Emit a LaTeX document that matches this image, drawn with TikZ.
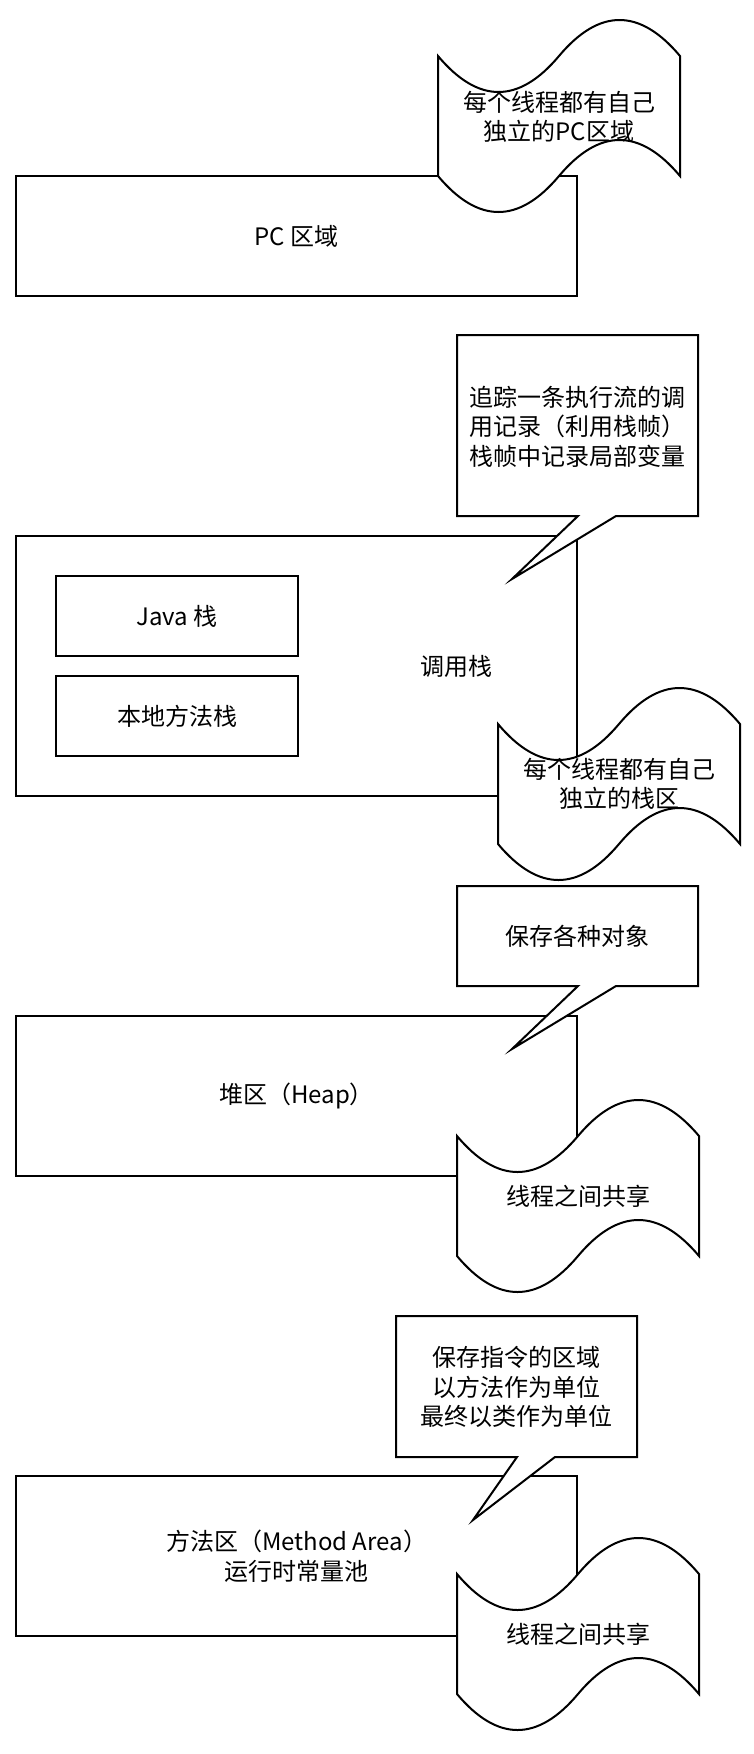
\documentclass[tikz,border=0pt]{standalone}
\usepackage{fontspec}
\setmainfont{Noto Sans CJK SC}

\begin{document}
\begin{tikzpicture}[x=1pt,y=-1pt,line width=2pt,
    font=\fontsize{24}{29.5}\selectfont,
    area/.style={draw, fill=white, inner sep=0pt, align=center, minimum width=561pt},
    sub/.style={draw, fill=white, inner sep=0pt, minimum width=242pt, minimum height=80pt},
    note/.style={inner sep=0pt, align=center}]
\useasboundingbox (0,0) rectangle (754,1754);

\node [area, minimum height=120pt] (pc) at (296.5,236) {PC 区域};
\node [area, minimum height=260pt] (callstack) at (296.5,666) {};
\node [note] (stacklabel) at (456,666) {调用栈};
\node [sub] (javastack) at (177,616) {Java 栈};
\node [sub] (nativestack) at (177,716) {本地方法栈};
\node [area, minimum height=160pt] (heap) at (296.5,1096) {堆区（Heap）};
\node [area, minimum height=160pt] (method) at (296.5,1556) {方法区（Method Area）\\运行时常量池};

\foreach \x/\y/\h/\t in {457/335/181/55, 457/886/100/55, 396/1316/141/77}
{
    \draw [fill=white] (\x,\y) -- ++(241,0) -- ++(0,\h) -- ({\x+159},{\y+\h})
        -- ({\x+\t},{\y+\h+63}) -- ({\x+121},{\y+\h}) -- ({\x},{\y+\h}) -- cycle;
}
\foreach \x/\y in {438/16, 498/684, 457/1096, 457/1534}
{
    \draw [fill=white, shift={(\x,\y)}] (0,40) .. controls (40.3,88) and (80.7,88) .. (121,40)
        .. controls (161.3,-8) and (201.7,-8) .. (242,40) -- (242,160)
        .. controls (201.7,112) and (161.3,112) .. (121,160)
        .. controls (80.7,208) and (40.3,208) .. (0,160) -- cycle;
}

\node [note] (pcnote) at (559,117) {每个线程都有自己\\独立的PC区域};
\node [note] (stacknote) at (577,426.5) {追踪一条执行流的调\\用记录（利用栈帧）\\栈帧中记录局部变量};
\node [note] (stackshare) at (619,784) {每个线程都有自己\\独立的栈区};
\node [note] (heapnote) at (577,936) {保存各种对象};
\node [note] (heapshare) at (578,1196) {线程之间共享};
\node [note] (methodnote) at (516.5,1387) {保存指令的区域\\以方法作为单位\\最终以类作为单位};
\node [note] (methodshare) at (578,1634) {线程之间共享};
\end{tikzpicture}
\end{document}
